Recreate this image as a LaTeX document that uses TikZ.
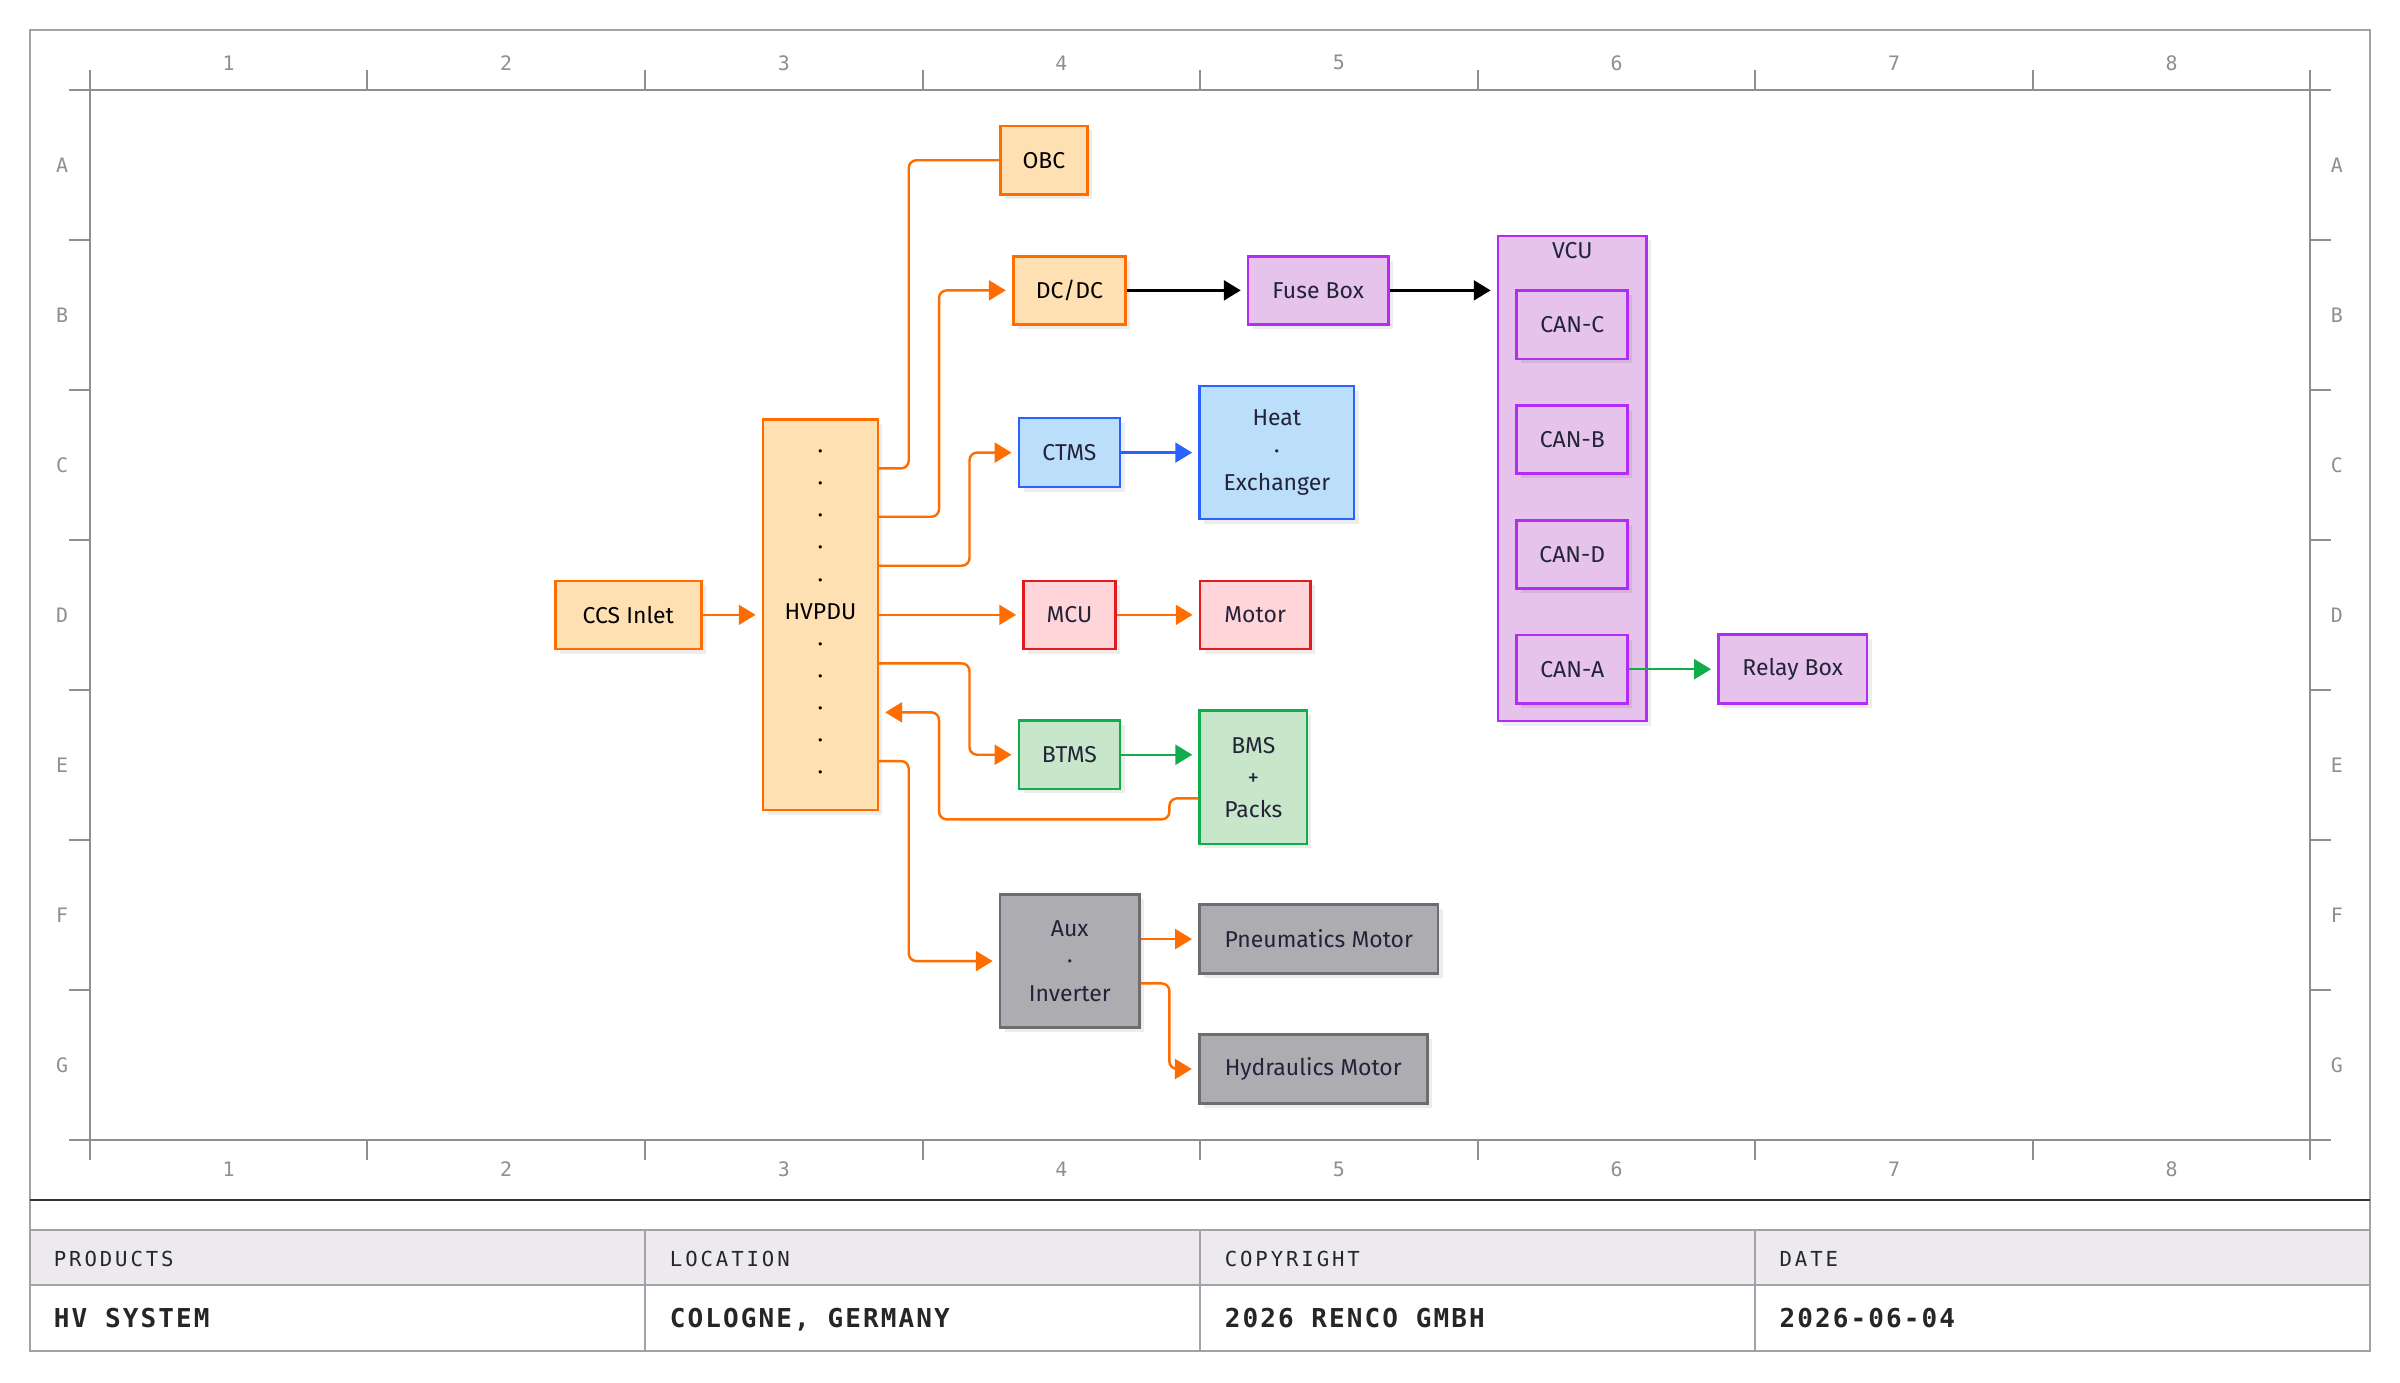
\documentclass[tikz,border=0pt]{standalone}
\usepackage{fontspec}
\setmainfont{Fira Sans}
\newfontfamily\rulerfont{DejaVu Sans Mono}
\newfontfamily\headfont[LetterSpace=14]{DejaVu Sans Mono}
\newfontfamily\valfont[LetterSpace=8]{DejaVu Sans Mono}
\usepackage{tikz}
\usetikzlibrary{arrows.meta,shapes,positioning,shadows}
\definecolor{hvorange}{HTML}{FF6D00}
\definecolor{hvpeach}{HTML}{FFE0B2}
\definecolor{ctblue}{HTML}{2962FF}
\definecolor{ctfill}{HTML}{BBDEFB}
\definecolor{mcred}{HTML}{E3191C}
\definecolor{mcfill}{HTML}{FFD5D9}
\definecolor{btgreen}{HTML}{12AD4B}
\definecolor{btfill}{HTML}{C8E6C9}
\definecolor{vcpurple}{HTML}{B12CF5}
\definecolor{vcfill}{HTML}{E5C3EA}
\definecolor{auxgray}{HTML}{6D6C71}
\definecolor{auxfill}{HTML}{ADACB0}
\definecolor{inkdark}{HTML}{23233A}
\definecolor{rulergray}{HTML}{8E8E93}
\definecolor{framegray}{HTML}{A3A3A7}
\definecolor{headfill}{HTML}{ECEAEE}
\tikzstyle{blk} = [draw, rectangle, line width=1.7pt, inner sep=0pt, align=center,
    text=inkdark, font=\fontsize{15pt}{21pt}\selectfont,
    drop shadow={shadow xshift=3pt, shadow yshift=-3pt, fill=black, opacity=0.07}]
\tikzstyle{hvbox} = [blk, draw=hvorange, fill=hvpeach, text=black]
\tikzstyle{ctbox} = [blk, draw=ctblue, fill=ctfill]
\tikzstyle{mcbox} = [blk, draw=mcred, fill=mcfill]
\tikzstyle{btbox} = [blk, draw=btgreen, fill=btfill]
\tikzstyle{vcbox} = [blk, draw=vcpurple, fill=vcfill]
\tikzstyle{auxbox} = [blk, draw=auxgray, fill=auxfill]
\tikzstyle{hvwire} = [hvorange, line width=1.6pt, rounded corners=5pt]
\tikzstyle{tipped} = [shorten >=4pt, -{Triangle[length=11pt,width=13pt]}]
\tikzstyle{rulerline} = [draw=rulergray, line width=1.3pt]
\tikzstyle{rulerlbl} = [text=rulergray, inner sep=0pt,
    font=\rulerfont\fontsize{13pt}{13pt}\selectfont]
\tikzstyle{headlbl} = [anchor=base west, inner sep=0pt, text=black!85,
    font=\headfont\fontsize{13.5pt}{14pt}\selectfont]
\tikzstyle{vallbl} = [anchor=base west, inner sep=0pt, text=black!85,
    font=\valfont\bfseries\fontsize{17pt}{18pt}\selectfont]

\begin{document}
\begin{tikzpicture}[x=1pt, y=-1pt]
  \useasboundingbox (0,0) rectangle (1568,903);
  \fill[white] (0,0) rectangle (1568,903);
  % Frame and title block
  \fill[headfill] (19.5,803.6) rectangle (1548.5,839.6);
  \draw[framegray, line width=1.4pt] (19.5,803.6) -- (1548.5,803.6)
    (19.5,839.6) -- (1548.5,839.6) (421.4,803.6) -- (421.4,882.7)
    (784,803.6) -- (784,882.7) (1146.6,803.6) -- (1146.6,882.7);
  \draw[framegray, line width=1.5pt] (19.5,19.5) rectangle (1548.5,882.7);
  \draw[black!80, line width=1.8pt] (19.5,784) -- (1548.5,784);
  \draw[rulerline] (45,58.8) -- (1523,58.8) (45,744.8) -- (1523,744.8)
    (58.7,45.7) -- (58.7,758) (1509.5,45.7) -- (1509.5,758);
  \foreach \i in {1,...,7} {
    \draw[rulerline] (58.7+181.35*\i,45.7) -- ++(0,13.1)
      (58.7+181.35*\i,744.8) -- ++(0,13.2);
  }
  \foreach \j in {1,...,6} {
    \draw[rulerline] (45,58.8+98*\j) -- ++(13.7,0)
      (1509.5,58.8+98*\j) -- ++(13.5,0);
  }
  \foreach \i in {1,...,8} {
    \node[rulerlbl] (ctop\i) at (58.7+181.35*\i-90.7,41) {\i};
    \node[rulerlbl] (cbot\i) at (58.7+181.35*\i-90.7,764) {\i};
  }
  \foreach \r [count=\j] in {A,...,G} {
    \node[rulerlbl] (rl\r) at (40.6,58.8+98*\j-49) {\r};
    \node[rulerlbl] (rr\r) at (1526.7,58.8+98*\j-49) {\r};
  }
  \node[headlbl] (hprod) at (35,827.6) {PRODUCTS};
  \node[headlbl] (hloc) at (437.5,827.6) {LOCATION};
  \node[headlbl] (hcopy) at (800,827.6) {COPYRIGHT};
  \node[headlbl] (hdate) at (1162.5,827.6) {DATE};
  \node[vallbl] (vprod) at (35,867.4) {HV SYSTEM};
  \node[vallbl] (vloc) at (437.5,867.4) {COLOGNE, GERMANY};
  \node[vallbl] (vcopy) at (800,867.4) {2026 RENCO GMBH};
  \node[vallbl] (vdate) at (1162.5,867.4) {2026-06-04};

  % Place nodes
  \node [hvbox, minimum width=75pt, minimum height=255pt] (hvpdu) at (536,401.7)
    {·\\·\\·\\·\\·\\HVPDU\\·\\·\\·\\·\\·};
  \node [hvbox, left of=hvpdu, node distance=125.5pt, minimum width=95.5pt, minimum height=44.5pt] (ccs) {CCS Inlet};
  \node [mcbox, right of=hvpdu, node distance=162.7pt, minimum width=60pt, minimum height=44.5pt] (mcu) {MCU};
  \node [mcbox, right of=mcu, node distance=121.3pt, minimum width=72pt, minimum height=44.5pt] (motor) {Motor};
  \node [ctbox, above of=mcu, node distance=106pt, minimum width=66pt, minimum height=45pt] (ctms) {CTMS};
  \node [ctbox, right of=ctms, node distance=135.5pt, minimum width=101pt, minimum height=87pt] (heat) {Heat\\·\\Exchanger};
  \node [hvbox, above of=ctms, node distance=106pt, minimum width=73.5pt, minimum height=44.5pt] (dcdc) {DC/DC};
  \node [vcbox, right of=dcdc, node distance=162.5pt, minimum width=91.5pt, minimum height=44.5pt] (fuse) {Fuse Box};
  \node [hvbox, minimum width=57pt, minimum height=45pt] (obc) at (682,104.7) {OBC};
  \node [btbox, below of=mcu, node distance=91.4pt, minimum width=66pt, minimum height=44.5pt] (btms) {BTMS};
  \node [btbox, minimum width=70pt, minimum height=87pt] (bms) at (818.8,507.8) {BMS\\+\\Packs};
  \node [auxbox, minimum width=91pt, minimum height=87pt] (aux) at (698.9,627.9) {Aux\\·\\Inverter};
  \node [auxbox, minimum width=156pt, minimum height=45pt] (pneu) at (861.6,613.5) {Pneumatics Motor};
  \node [auxbox, minimum width=149pt, minimum height=45pt] (hyd) at (858,698.4) {Hydraulics Motor};
  \node [vcbox, minimum width=97pt, minimum height=317pt] (vcu) at (1027.2,312.6) {};
  \node [below=5pt of vcu.north, inner sep=0pt, text=inkdark,
    font=\fontsize{15pt}{21pt}\selectfont] (vcuname) {VCU};
  \node [vcbox, minimum width=72.5pt, minimum height=44.5pt] (canc) at (1027.2,212.2) {CAN-C};
  \node [vcbox, below of=canc, node distance=75pt, minimum width=72.5pt, minimum height=44.5pt] (canb) {CAN-B};
  \node [vcbox, below of=canb, node distance=75pt, minimum width=72.5pt, minimum height=44.5pt] (cand) {CAN-D};
  \node [vcbox, below of=cand, node distance=75pt, minimum width=72.5pt, minimum height=44.5pt] (cana) {CAN-A};
  \node [vcbox, right of=cana, node distance=144pt, minimum width=97pt, minimum height=45pt] (relay) {Relay Box};
  \coordinate (busA) at (593.7,0);
  \coordinate (busB) at (613.5,0);
  \coordinate (busC) at (633.4,0);
  \coordinate (busH) at (764,0);

  % Draw edges
  \draw [hvwire, tipped] (ccs) -- (hvpdu);
  \draw [hvwire] (hvpdu.east |- 0,306) -| (busA |- obc.west) -- (obc.west);
  \draw [hvwire, tipped] (hvpdu.east |- 0,337.6) -| (busB |- dcdc.west) -- (dcdc.west);
  \draw [hvwire, tipped] (hvpdu.east |- 0,369.6) -| (busC |- ctms.west) -- (ctms.west);
  \draw [hvwire, tipped] (hvpdu.east |- mcu.west) -- (mcu.west);
  \draw [hvwire, tipped] (hvpdu.east |- 0,433.4) -| (busC |- btms.west) -- (btms.west);
  \draw [hvwire, tipped] (bms.west |- 0,521.6) -| (busH |- 0,535.3)
    -| (busB |- 0,465.4) -- (hvpdu.east |- 0,465.4);
  \draw [hvwire, tipped] (hvpdu.east |- 0,497.2) -| (busA |- aux.west) -- (aux.west);
  \draw [hvwire, tipped] (mcu) -- (motor);
  \draw [hvwire, tipped] (aux.east |- pneu.west) -- (pneu.west);
  \draw [hvwire, tipped] (aux.east |- 0,642.5) -| (busH |- hyd.west) -- (hyd.west);
  \draw [black, line width=1.6pt, tipped] (dcdc) -- (fuse);
  \draw [black, line width=1.6pt, tipped] (fuse.east) -- (vcu.west |- fuse.east);
  \draw [ctblue, line width=1.6pt, tipped] (ctms) -- (heat);
  \draw [btgreen, line width=1.6pt, tipped] (btms.east) -- (bms.west |- btms.east);
  \draw [btgreen, line width=1.6pt, tipped] (cana) -- (relay);
\end{tikzpicture}
\end{document}
